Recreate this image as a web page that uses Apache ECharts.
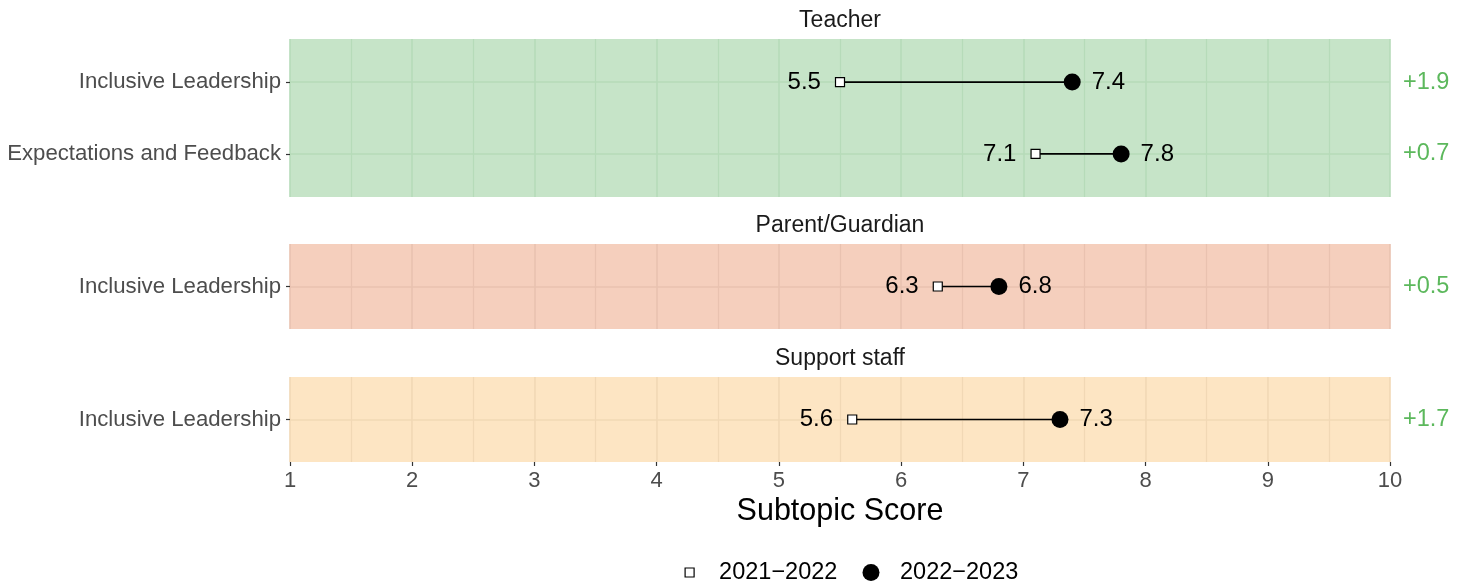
<!DOCTYPE html>
<html>
<head>
<meta charset="utf-8">
<script src="https://cdn.jsdelivr.net/npm/echarts@6/dist/echarts.min.js"></script>
<style>
html,body{margin:0;padding:0;background:#fff;}
#chart{width:1469px;height:584px;}
</style>
</head>
<body>
<div id="chart"></div>
<script>
// ---- data ----
var panels = ['Teacher', 'Parent/Guardian', 'Support staff'];
var subtopics = [
  ['Inclusive Leadership', 'Expectations and Feedback'],
  ['Inclusive Leadership'],
  ['Inclusive Leadership']
];
var score2021 = [[5.5, 7.1], [6.3], [5.6]];
var score2022 = [[7.4, 7.8], [6.8], [7.3]];
var changeLabels = [['+1.9', '+0.7'], ['+0.5'], ['+1.7']];
var seriesNames = ['2021\u22122022', '2022\u22122023'];
var xTicks = [1, 2, 3, 4, 5, 6, 7, 8, 9, 10];

// ---- layout / style ----
var FONT = 'Liberation Sans';
var panelTop = [39, 244, 377];
var panelHeight = [158, 85, 85];
var panelBg = ['#c6e4c8', '#f5cfbd', '#fde5c3'];
var panelLine = ['#b6dbb9', '#e9c2b0', '#f1d8b5'];
var green = '#5cb85c';

var grids = [], xAxes = [], yAxes = [], series = [], graphics = [];
panels.forEach(function (p, g) {
  var n = subtopics[g].length;
  var rows = subtopics[g].map(function (_, i) { return i + 1; });
  var last = g === panels.length - 1;
  grids.push({
    left: 290, right: 79, top: panelTop[g], height: panelHeight[g],
    show: true, backgroundColor: panelBg[g], borderWidth: 0
  });
  xAxes.push({
    type: 'value', gridIndex: g, min: 1, max: 10, interval: 1,
    axisLine: { show: false },
    axisTick: { show: last, length: 4, lineStyle: { color: '#333', width: 1.2 } },
    axisLabel: { show: last, fontFamily: FONT, fontSize: 22, color: '#4d4d4d', margin: 8,
      formatter: function (v) { return xTicks.indexOf(v) >= 0 ? String(v) : ''; } },
    splitLine: { show: true, lineStyle: { color: panelLine[g], width: 1.6 } },
    minorTick: { show: false, splitNumber: 2 },
    minorSplitLine: { show: true, lineStyle: { color: panelLine[g], width: 1.2 } },
    name: last ? 'Subtopic Score' : '',
    nameLocation: 'middle', nameGap: 34,
    nameTextStyle: { fontFamily: FONT, fontSize: 30.5, color: '#000' }
  });
  yAxes.push({
    type: 'value', gridIndex: g, min: 0.4, max: n + 0.6, inverse: true,
    axisLine: { show: false },
    axisTick: { show: true, length: 4, customValues: rows, lineStyle: { color: '#333', width: 1.2 } },
    axisLabel: { show: true, customValues: rows, margin: 9, fontFamily: FONT, fontSize: 22.2, color: '#4d4d4d',
      padding: [3, 0, 0, 0],
      formatter: function (v) { return subtopics[g][Math.round(v) - 1] || ''; } },
    splitLine: { show: true, customValues: rows, lineStyle: { color: panelLine[g], width: 1.6 } }
  });
  graphics.push({
    type: 'text', x: 840, y: panelTop[g] - 18,
    style: { text: p, font: '23px "' + FONT + '"', fill: '#1a1a1a', textAlign: 'center', textVerticalAlign: 'middle' }
  });
  // segments
  series.push({
    type: 'custom', xAxisIndex: g, yAxisIndex: g, silent: true, z: 2,
    data: rows.map(function (r, i) { return [score2021[g][i], score2022[g][i], r]; }),
    encode: { x: [0, 1], y: 2 },
    renderItem: function (params, api) {
      var a = api.coord([api.value(0), api.value(2)]);
      var b = api.coord([api.value(1), api.value(2)]);
      return { type: 'line', shape: { x1: a[0], y1: a[1], x2: b[0], y2: b[1] },
        style: { stroke: '#000', lineWidth: 1.6 } };
    }
  });
  series.push({
    type: 'scatter', name: seriesNames[0], xAxisIndex: g, yAxisIndex: g, silent: true, z: 3,
    symbol: 'rect', symbolSize: 9,
    itemStyle: { color: '#fff', borderColor: '#000', borderWidth: 1.2, opacity: 1 },
    data: rows.map(function (r, i) { return [score2021[g][i], r]; }),
    label: { show: true, position: 'left', distance: 14, fontFamily: FONT, fontSize: 24, color: '#000',
      padding: [2, 0, 0, 0],
      formatter: function (d) { return d.value[0].toFixed(1); } }
  });
  series.push({
    type: 'scatter', name: seriesNames[1], xAxisIndex: g, yAxisIndex: g, silent: true, z: 3,
    symbol: 'circle', symbolSize: 17,
    itemStyle: { color: '#000', opacity: 1 },
    data: rows.map(function (r, i) { return [score2022[g][i], r]; }),
    label: { show: true, position: 'right', distance: 11, fontFamily: FONT, fontSize: 24, color: '#000',
      padding: [2, 0, 0, 0],
      formatter: function (d) { return d.value[0].toFixed(1); } }
  });
  series.push({
    type: 'scatter', name: 'change', xAxisIndex: g, yAxisIndex: g, silent: true, z: 3,
    symbolSize: 0, clip: false, itemStyle: { opacity: 1 },
    data: rows.map(function (r, i) { return [10, r, changeLabels[g][i]]; }),
    label: { show: true, position: 'right', distance: 13, fontFamily: FONT, fontSize: 23.5, color: green,
      padding: [2, 0, 0, 0],
      formatter: function (d) { return d.value[2]; } }
  });
});

var chart = echarts.init(document.getElementById('chart'));
chart.setOption({
  animation: false,
  backgroundColor: '#fff',
  textStyle: { fontFamily: FONT },
  grid: grids,
  xAxis: xAxes,
  yAxis: yAxes,
  series: series,
  graphic: graphics,
  tooltip: { show: false },
  legend: [
    { data: [{ name: seriesNames[0], icon: 'rect' }], left: 684.5, top: 560.5, padding: 0,
      itemWidth: 9, itemHeight: 9, selectedMode: false,
      itemStyle: { color: '#fff', borderColor: '#000', borderWidth: 1.2, opacity: 1 },
      textStyle: { fontFamily: FONT, fontSize: 23.5, color: '#000', padding: [0, 0, 0, 20] } },
    { data: [{ name: seriesNames[1], icon: 'circle' }], left: 862.5, top: 560.5, padding: 0,
      itemWidth: 17, itemHeight: 17, selectedMode: false,
      itemStyle: { color: '#000', opacity: 1 },
      textStyle: { fontFamily: FONT, fontSize: 23.5, color: '#000', padding: [0, 0, 0, 15.5] } }
  ]
});
</script>
</body>
</html>
